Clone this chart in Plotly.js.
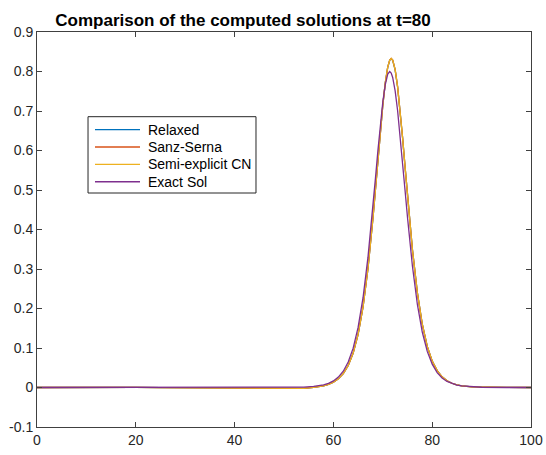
<!DOCTYPE html>
<html>
<head>
<meta charset="utf-8">
<script src="https://cdn.plot.ly/plotly-3.0.1.min.js"></script>
<style>
  html, body { margin: 0; padding: 0; background: #ffffff; }
  #plot { width: 546px; height: 455px; }
</style>
</head>
<body>
<div id="plot"></div>
<script>
// Spatial grid (denser around the solitary wave)
var xGrid = [0, 5, 10, 15, 20, 25, 30, 35, 40, 45, 50, 52, 54, 56, 57, 58, 59, 60, 61, 62,
             63, 64, 65, 66, 67, 67.5, 68, 68.5, 69, 69.5, 70, 70.5, 71, 71.4, 71.7, 72, 72.5,
             73, 73.5, 74, 74.5, 75, 75.5, 76, 77, 78, 79, 80, 81, 82, 83, 84, 85, 86, 88, 90, 95, 100];

// Solutions at t=80
var relaxed = [0, 0.0005, 0.001, 0.001, 0.0005, -0.0005, -0.001, -0.0005, -0.001, -0.002, -0.0028, -0.0028, -0.002, 0.0002, 0.0018, 0.0042, 0.0077, 0.0133, 0.0219, 0.0351,
               0.0556, 0.0870, 0.1346, 0.2043, 0.3015, 0.3613, 0.4279, 0.4997, 0.5740, 0.6472, 0.7146, 0.7709, 0.8108, 0.8285, 0.8325, 0.8285, 0.8043,
               0.7607, 0.7019, 0.6330, 0.5591, 0.4849, 0.4140, 0.3487, 0.2396, 0.1595, 0.1040, 0.0668, 0.0426, 0.0270, 0.0170, 0.0107, 0.0068, 0.0042, 0.0017, 0.0007, 0.0001, 0];
var sanzSerna = [0, 0.0005, 0.001, 0.001, 0.0005, -0.0005, -0.001, -0.0005, -0.001, -0.002, -0.0028, -0.0028, -0.002, 0.0002, 0.0018, 0.0042, 0.0077, 0.0133, 0.0219, 0.0351,
                 0.0556, 0.0870, 0.1346, 0.2043, 0.3016, 0.3614, 0.4280, 0.4998, 0.5742, 0.6474, 0.7148, 0.7712, 0.8112, 0.8289, 0.8330, 0.8289, 0.8047,
                 0.7610, 0.7021, 0.6331, 0.5592, 0.4850, 0.4141, 0.3488, 0.2396, 0.1595, 0.1040, 0.0668, 0.0426, 0.0270, 0.0170, 0.0107, 0.0068, 0.0042, 0.0017, 0.0007, 0.0001, 0];
var semiExplicitCN = [0, 0.0005, 0.001, 0.001, 0.0005, -0.0005, -0.001, -0.0005, -0.001, -0.002, -0.0028, -0.0028, -0.002, 0.0002, 0.0018, 0.0042, 0.0077, 0.0133, 0.0219, 0.0351,
                      0.0556, 0.0870, 0.1346, 0.2043, 0.3016, 0.3614, 0.4280, 0.4998, 0.5742, 0.6474, 0.7148, 0.7712, 0.8112, 0.8289, 0.8330, 0.8289, 0.8047,
                      0.7610, 0.7021, 0.6331, 0.5592, 0.4850, 0.4141, 0.3488, 0.2396, 0.1595, 0.1040, 0.0668, 0.0426, 0.0270, 0.0170, 0.0107, 0.0068, 0.0042, 0.0017, 0.0007, 0.0001, 0];
var exactSol = [0, 0, 0, 0, 0, 0, 0, 0, 0.00001, 0.00002, 0.00017, 0.00043, 0.00107, 0.00268, 0.00424, 0.00671, 0.0106, 0.0167, 0.0263, 0.0413,
                0.0644, 0.0996, 0.1521, 0.2273, 0.3299, 0.3912, 0.4579, 0.5281, 0.5983, 0.6648, 0.7225, 0.7667, 0.7933, 0.8000, 0.7962, 0.7850, 0.7509,
                0.7007, 0.6390, 0.5705, 0.4998, 0.4308, 0.3659, 0.3071, 0.2102, 0.1399, 0.0914, 0.0590, 0.0378, 0.0240, 0.0153, 0.0097, 0.0061, 0.0039, 0.0015, 0.0006, 0, 0];

var seriesNames = ['Relaxed', 'Sanz-Serna', 'Semi-explicit CN', 'Exact Sol'];
var seriesColors = ['#0072BD', '#D95319', '#EDB120', '#7E2F8E'];

var xTicks = [0, 20, 40, 60, 80, 100];
var yTicks = [-0.1, 0, 0.1, 0.2, 0.3, 0.4, 0.5, 0.6, 0.7, 0.8, 0.9];
var yTickLabels = ['-0.1', '0', '0.1', '0.2', '0.3', '0.4', '0.5', '0.6', '0.7', '0.8', '0.9'];

var seriesData = [relaxed, sanzSerna, semiExplicitCN, exactSol];
var traces = seriesData.map(function (ys, i) {
  return {
    type: 'scatter',
    mode: 'lines',
    x: xGrid,
    y: ys,
    name: seriesNames[i],
    line: { color: seriesColors[i], width: 1.3 },
    hoverinfo: 'skip'
  };
});

var axisColor = '#404040';
var fontFamily = '"Liberation Sans", Arial, Helvetica, sans-serif';

// Boxed legend in the upper-left part of the axes (paper coordinates)
var legBox = { x0: 0.1033, x1: 0.4433, y0: 0.5924, y1: 0.7856 };
var legLineX = [0.1174, 0.2085];
var legTextX = 0.2206;
var legRowTop = 0.7529;
var legRowStep = 0.0440;

var shapes = [{
  type: 'rect', xref: 'paper', yref: 'paper',
  x0: legBox.x0, x1: legBox.x1, y0: legBox.y0, y1: legBox.y1,
  fillcolor: '#ffffff', line: { color: '#262626', width: 1 }, layer: 'above'
}];
var annotations = [];
seriesNames.forEach(function (name, i) {
  var yRow = legRowTop - i * legRowStep;
  shapes.push({
    type: 'line', xref: 'paper', yref: 'paper',
    x0: legLineX[0], x1: legLineX[1], y0: yRow, y1: yRow,
    line: { color: seriesColors[i], width: 1.3 }, layer: 'above'
  });
  annotations.push({
    xref: 'paper', yref: 'paper', x: legTextX, y: yRow,
    xanchor: 'left', yanchor: 'middle', showarrow: false,
    text: name, font: { family: fontFamily, size: 14, color: '#000000' }
  });
});

var layout = {
  width: 546,
  height: 455,
  margin: { l: 37, r: 15, t: 32, b: 28 },
  paper_bgcolor: '#ffffff',
  plot_bgcolor: '#ffffff',
  font: { family: fontFamily, size: 14, color: '#262626' },
  title: {
    text: '<b>Comparison of the computed solutions at t=80</b>',
    font: { family: fontFamily, size: 17, color: '#000000' },
    xref: 'paper', x: 0.417, xanchor: 'center',
    yref: 'container', y: 0.957, yanchor: 'middle'
  },
  xaxis: {
    range: [0, 100],
    tickvals: xTicks,
    ticktext: xTicks.map(String),
    ticks: 'inside', ticklen: 5, tickcolor: axisColor,
    showline: true, linecolor: axisColor, linewidth: 1, mirror: 'ticks',
    showgrid: false, zeroline: false,
    tickfont: { size: 14, color: '#262626' }
  },
  yaxis: {
    range: [-0.1, 0.9],
    tickvals: yTicks,
    ticktext: yTickLabels,
    ticks: 'inside', ticklen: 5, tickcolor: axisColor,
    showline: true, linecolor: axisColor, linewidth: 1, mirror: 'ticks',
    showgrid: false, zeroline: false,
    tickfont: { size: 14, color: '#262626' }
  },
  showlegend: false,
  shapes: shapes,
  annotations: annotations
};

Plotly.newPlot('plot', traces, layout, { staticPlot: true, displayModeBar: false });
</script>
</body>
</html>
